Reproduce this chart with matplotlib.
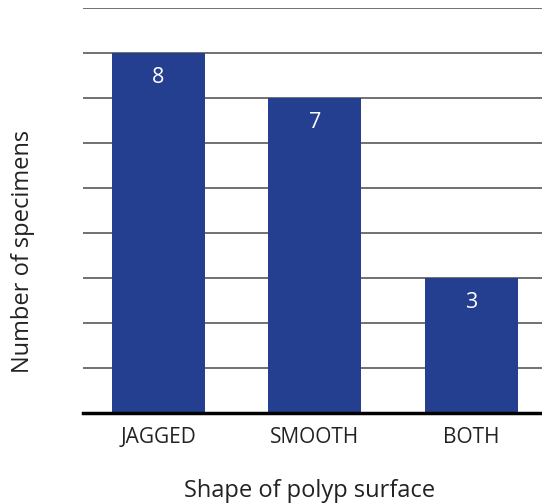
import matplotlib
matplotlib.use('Agg')
from matplotlib import pyplot as plt

plt.rcParams['font.family'] = ['Open Sans', 'DejaVu Sans']

shapes = ['JAGGED', 'SMOOTH', 'BOTH']
counts = [8, 7, 3]

fig = plt.figure(figsize=(5.42, 5.04), dpi=100)
ax = fig.add_axes([0.153, 0.1806, 0.847, 0.8035])

x = list(range(len(shapes)))
bars = ax.bar(x, counts, width=0.594, color='#243f8f', zorder=3)

for xi, c in zip(x, counts):
    ax.text(xi, c - 0.32, str(c), ha='center', va='top', color='white',
            fontsize=15.5, zorder=4)

ax.set_ylim(0, 9)
ax.set_xlim(-0.482, 2.45)
ax.set_yticks(range(1, 10))
ax.yaxis.grid(True, color='#666666', linewidth=1.3, zorder=0)
ax.set_yticklabels([])
ax.tick_params(axis='y', length=0)
ax.tick_params(axis='x', length=0, pad=10, labelsize=15, colors='#222222')
ax.set_xticks(x)
ax.set_xticklabels(shapes)

for s in ['top', 'right', 'left']:
    ax.spines[s].set_visible(False)
ax.spines['bottom'].set_linewidth(2.5)
ax.spines['bottom'].set_zorder(5)

fig.text(0.043, 0.501, 'Number of specimens', rotation=90, ha='center',
         va='center', fontsize=17, color='#222222')
fig.text(0.572, 0.025, 'Shape of polyp surface', ha='center', va='center',
         fontsize=17, color='#222222')

fig.savefig('out.png', dpi=100)
